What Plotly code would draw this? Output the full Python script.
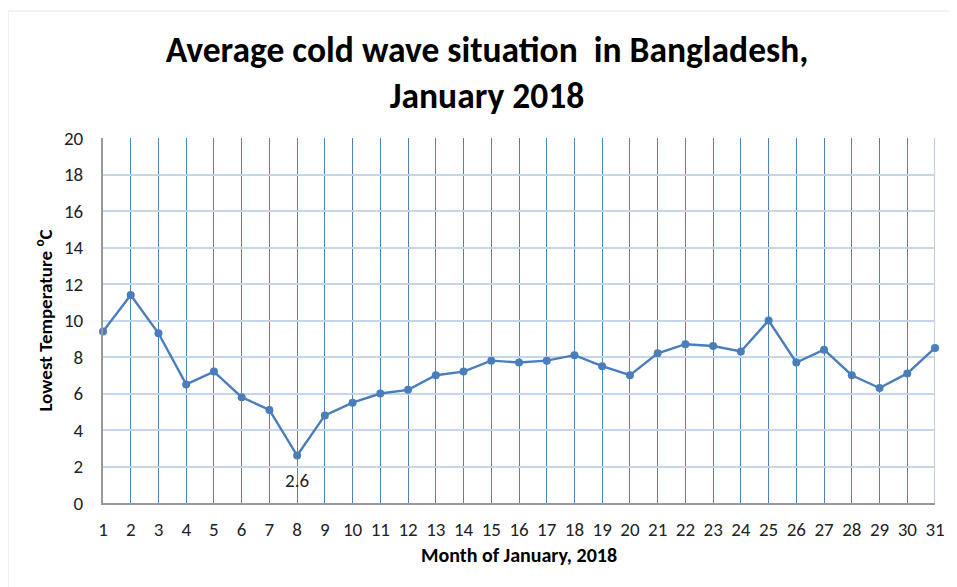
import plotly.graph_objects as go

days = list(range(1, 32))
temps = [9.4, 11.4, 9.3, 6.5, 7.2, 5.8, 5.1, 2.6, 4.8, 5.5, 6.0, 6.2, 7.0, 7.2, 7.8,
         7.7, 7.8, 8.1, 7.5, 7.0, 8.2, 8.7, 8.6, 8.3, 10.0, 7.7, 8.4, 7.0, 6.3, 7.1, 8.5]
y_ticks = list(range(0, 21, 2))
title_text = "Average cold wave situation  in Bangladesh,<br>January 2018"
x_title = "Month of January, 2018"
y_title = "Lowest Temperature <sup>o</sup>C"
min_label = "2.6"

FONT = "Carlito, Lato, 'Open Sans', sans-serif"
line_color = "#4a7ebb"

# page body has an 8px margin; compensate in figure margins
L, R, T, B = 95, 30, 130, 92
W, H = 957, 587
PW, PH = W - L - R, H - T - B

fig = go.Figure()
fig.add_trace(go.Scatter(
    x=days, y=temps, mode="lines+markers",
    line=dict(color=line_color, width=2.4),
    marker=dict(color=line_color, size=8),
    cliponaxis=False, showlegend=False,
))

fig.add_annotation(x=8, y=2.6, text=min_label, showarrow=False, yshift=-25,
                   font=dict(family=FONT, size=19, color="#222"))

# outer chart border
fig.add_shape(type="rect", xref="paper", yref="paper",
              x0=(0 - L) / PW, x1=(956 - L) / PW,
              y0=(H - B - 600) / PH, y1=(H - B - 3) / PH,
              line=dict(color="#dde6ee", width=1), layer="below")

fig.update_layout(
    width=W, height=H,
    margin=dict(l=L, r=R, t=T, b=B),
    paper_bgcolor="white", plot_bgcolor="white",
    title=dict(text=title_text, x=(487 - 8) / W, xanchor="center", y=1 - 54 / H, yanchor="top",
               font=dict(family=FONT, size=35.5, color="black", weight="bold")),
    font=dict(family=FONT, color="#222"),
    xaxis=dict(
        range=[1, 31], tickmode="array", tickvals=days, ticktext=[str(d) for d in days],
        showgrid=True, gridcolor="#4f81bd", gridwidth=1.4,
        showline=True, linecolor="#999999", linewidth=2,
        ticks="outside", ticklen=8, tickcolor="rgba(0,0,0,0)",
        tickfont=dict(size=19, family=FONT, color="#222"),
        title=dict(text=x_title, font=dict(size=20, family=FONT, color="black", weight="bold"), standoff=8),
        zeroline=False, mirror=False,
    ),
    yaxis=dict(
        range=[0, 20], tickmode="array", tickvals=y_ticks,
        showgrid=True, gridcolor="#c5d5ea", gridwidth=2,
        showline=True, linecolor="#999999", linewidth=2,
        ticks="outside", ticklen=14, tickcolor="rgba(0,0,0,0)",
        tickfont=dict(size=19, family=FONT, color="#222"),
        title=dict(text=y_title, font=dict(size=19, family=FONT, color="black", weight="bold"), standoff=6),
        zeroline=False,
    ),
)
# right edge light line
fig.add_shape(type="line", xref="x", yref="paper", x0=31, x1=31, y0=0, y1=1,
              line=dict(color="#b8cce4", width=2), layer="below")

fig.write_html("out.html")
